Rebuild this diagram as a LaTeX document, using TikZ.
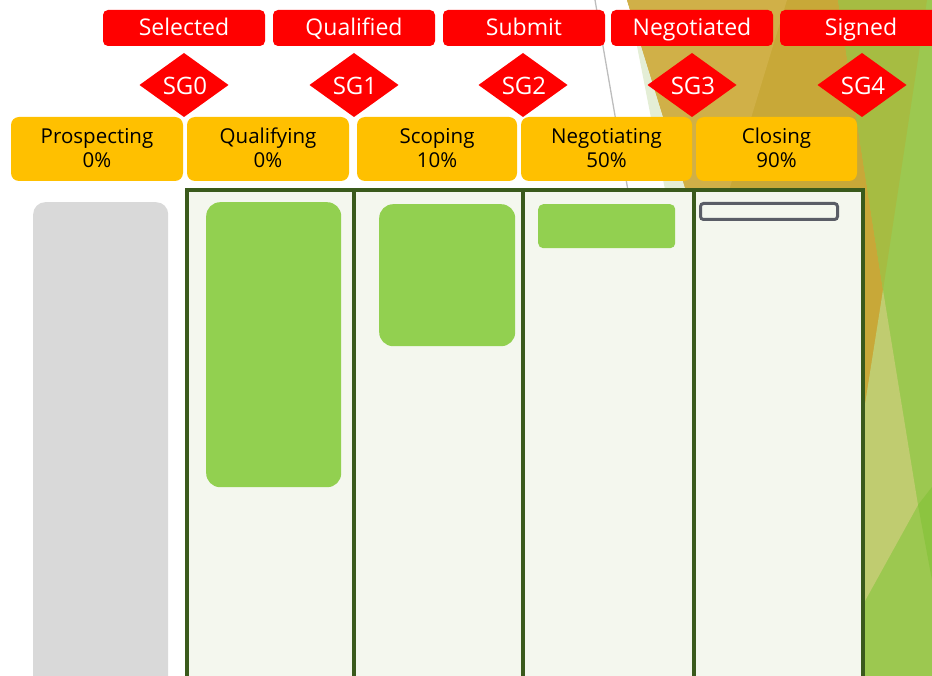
\documentclass[tikz,border=0pt]{standalone}
\usepackage{fontspec}
\setmainfont{Open Sans}
\usetikzlibrary{shapes.geometric}
\definecolor{hdrred}{HTML}{FF0000}
\definecolor{stageyel}{HTML}{FFC000}
\definecolor{boardfill}{HTML}{F4F7EE}
\definecolor{boardline}{HTML}{3A5A1C}
\definecolor{cardgreen}{HTML}{92D050}
\definecolor{cardgray}{HTML}{D9D9D9}
\definecolor{outlinegray}{HTML}{5A5D66}
\definecolor{golddark}{HTML}{C8A838}
\definecolor{goldlight}{HTML}{D0B048}
\definecolor{olive}{HTML}{A6BC42}
\definecolor{ltgreen}{HTML}{9CC850}
\definecolor{paleolive}{HTML}{C0CC70}
\definecolor{palegreen}{HTML}{E4EED6}
\definecolor{wedgegreen}{HTML}{8CC440}
\definecolor{thinline}{HTML}{BDBDBD}
\begin{document}
\begin{tikzpicture}[x=1pt,y=-1pt,
  hdr/.style={fill=hdrred, rounded corners=5pt, minimum width=162pt, minimum height=36pt, inner sep=0pt, text=white, text height=17pt, text depth=1pt, font=\fontsize{23}{26}\selectfont},
  sgdiam/.style={diamond, fill=hdrred, inner sep=0pt, outer sep=0pt, minimum width=89pt, minimum height=64pt},
  sgtext/.style={text=white, font=\fontsize{24}{26}\selectfont, inner sep=0pt, anchor=base},
  stage/.style={fill=stageyel, rounded corners=8pt, minimum height=64pt, inner sep=0pt},
  stagetxt/.style={text=black, font=\fontsize{20.5}{24}\selectfont, inner sep=0pt, anchor=base},
  col/.style={draw=boardline, line width=3.8pt, fill=boardfill, minimum height=600pt, inner sep=0pt, anchor=north west},
  card/.style={fill=cardgreen, inner sep=0pt, anchor=north west}
]
\useasboundingbox (0,0) rectangle (932,676);
\clip (0,0) rectangle (932,676);
% background facets
\fill[ltgreen] (838,0) -- (932,0) -- (932,676) -- (840,676) -- cycle;
\fill[palegreen] (628,0) -- (706,400) -- (751,400) -- cycle;
\fill[golddark] (627,0) -- (838,0) -- (883,290) -- (863,433) -- (860,676) -- (751,400) -- cycle;
\fill[goldlight] (627,0) -- (787,0) -- (720,220) -- (695,220) -- cycle;
\fill[olive] (838,0) -- (927,0) -- (883,290) -- cycle;
\fill[paleolive] (883,290) -- (918,505) -- (860,610) -- (860,436) -- cycle;
\fill[wedgegreen] (918,505) -- (932,487) -- (932,580) -- cycle;
\coordinate (lineA) at (595,0);
\coordinate (lineB) at (640,260);
\draw[thinline, line width=1.3pt] (lineA) -- (lineB);
% header
\node[hdr] (selected) at (184,28) {Selected};
\node[hdr] (qualified) at (354,28) {Qualified};
\node[hdr] (submit) at (524,28) {Submit};
\node[hdr] (negotiated) at (692,28) {Negotiated};
\node[hdr] (signed) at (861,28) {Signed};
% gates
\node[sgdiam] (sg0) at (184,85) {};
\node[sgtext] (sg0t) at (185,95) {SG0};
\node[sgdiam] (sg1) at (354,85) {};
\node[sgtext] (sg1t) at (355,95) {SG1};
\node[sgdiam] (sg2) at (523,85) {};
\node[sgtext] (sg2t) at (524,95) {SG2};
\node[sgdiam] (sg3) at (692,85) {};
\node[sgtext] (sg3t) at (693,95) {SG3};
\node[sgdiam] (sg4) at (862,85) {};
\node[sgtext] (sg4t) at (863,95) {SG4};
% stages
\node[stage, minimum width=172pt] (prospecting) at (97,149) {};
\node[stagetxt] (prospecting1) at (97,144) {Prospecting};
\node[stagetxt] (prospecting2) at (97,168) {0\%};
\node[stage, minimum width=162pt] (qualifying) at (268,149) {};
\node[stagetxt] (qualifying1) at (268,144) {Qualifying};
\node[stagetxt] (qualifying2) at (268,168) {0\%};
\node[stage, minimum width=160pt] (scoping) at (437,149) {};
\node[stagetxt] (scoping1) at (437,144) {Scoping};
\node[stagetxt] (scoping2) at (437,168) {10\%};
\node[stage, minimum width=171pt] (negotiating) at (606.5,149) {};
\node[stagetxt] (negotiating1) at (606.5,144) {Negotiating};
\node[stagetxt] (negotiating2) at (606.5,168) {50\%};
\node[stage, minimum width=161pt] (closing) at (776.5,149) {};
\node[stagetxt] (closing1) at (776.5,144) {Closing};
\node[stagetxt] (closing2) at (776.5,168) {90\%};
% board
\node[col, minimum width=167pt] (colq) at (185,188.5) {};
\node[col, minimum width=169pt] (cols) at (352,188.5) {};
\node[col, minimum width=171pt] (coln) at (521,188.5) {};
\node[col, minimum width=169pt] (colc) at (692,188.5) {};
% cards
\node[card, fill=cardgray, rounded corners=12pt, minimum width=135pt, minimum height=500pt] (cardp) at (33,202) {};
\node[card, rounded corners=14pt, minimum width=135pt, minimum height=285pt] (cardq) at (206,202) {};
\node[card, rounded corners=14pt, minimum width=136pt, minimum height=142pt] (cards) at (379,204) {};
\node[card, rounded corners=5pt, minimum width=137pt, minimum height=44pt] (cardn) at (538,204) {};
\node[card, fill=boardfill, draw=outlinegray, line width=3pt, rounded corners=3pt, minimum width=137pt, minimum height=16pt] (cardc) at (699,202) {};
\end{tikzpicture}
\end{document}
